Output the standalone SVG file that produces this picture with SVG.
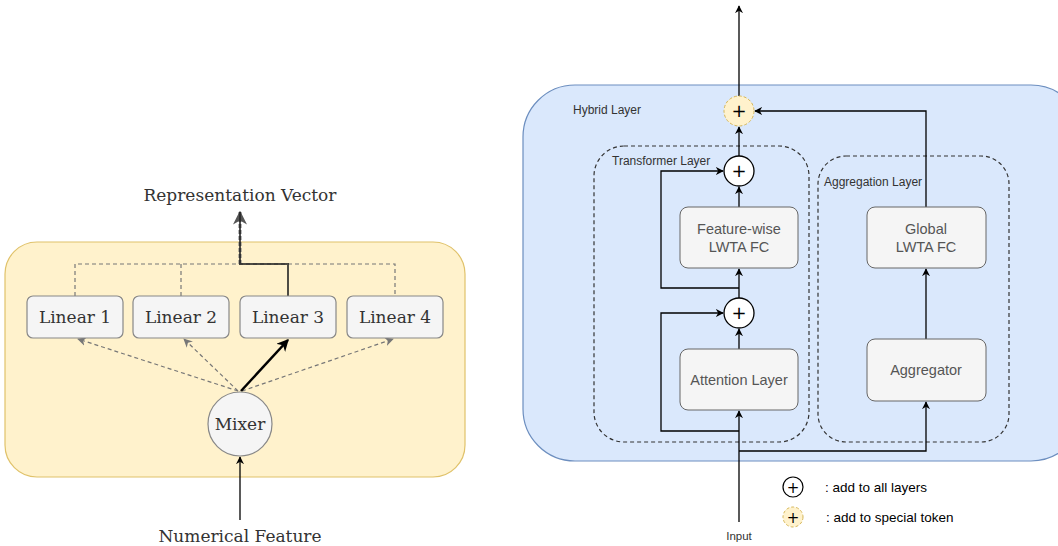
<svg xmlns="http://www.w3.org/2000/svg" width="1058" height="546" viewBox="0 0 1058 546">
<style>
.serif{font-family:"DejaVu Serif","Liberation Serif",serif;fill:#333;}
.sans{font-family:"Liberation Sans",Arial,sans-serif;fill:#333;}
.lin{fill:#f5f5f5;stroke:#888;stroke-width:1.2;}
.box{fill:#f5f5f5;stroke:#666;stroke-width:1;}
.dash{fill:none;stroke:#777;stroke-width:1.2;stroke-dasharray:4 3;}
.solid{fill:none;stroke:#000;stroke-width:1.3;}
.thick{fill:none;stroke:#000;stroke-width:2.5;}
.grp{fill:none;stroke:#333;stroke-width:1.2;stroke-dasharray:4 3;}
.plus{fill:#fff;stroke:#000;stroke-width:1.3;}
.yplus{fill:#fff2cc;stroke:#d6b656;stroke-width:1;stroke-dasharray:3 2;}
.pl{font-family:"DejaVu Sans","Liberation Sans",sans-serif;fill:#000;text-anchor:middle;}
.bt{font-family:"Liberation Sans",Arial,sans-serif;fill:#555;font-size:14.5px;text-anchor:middle;}
</style>
<defs>
<marker id="ah" viewBox="0 0 10 10" refX="9" refY="5" markerWidth="8" markerHeight="8" markerUnits="userSpaceOnUse" orient="auto"><path d="M0,0 L10,5 L0,10 L3,5 z" fill="#000"/></marker>
<marker id="ahg" viewBox="0 0 10 10" refX="9" refY="5" markerWidth="9" markerHeight="9" markerUnits="userSpaceOnUse" orient="auto"><path d="M0,0 L10,5 L0,10 L3,5 z" fill="#777"/></marker>
<marker id="ahk" viewBox="0 0 10 10" refX="9" refY="5" markerWidth="12" markerHeight="12" markerUnits="userSpaceOnUse" orient="auto"><path d="M0,0 L10,5 L0,10 L3,5 z" fill="#000"/></marker>
<marker id="ahu" viewBox="0 0 10 10" refX="9" refY="5" markerWidth="14" markerHeight="14" markerUnits="userSpaceOnUse" orient="auto"><path d="M0,0 L10,5 L0,10 L3,5 z" fill="#555"/></marker>
</defs>

<!-- LEFT PANEL -->
<g id="mixer-panel">
<rect x="5" y="242" width="460" height="235" rx="32" fill="#fff2cc" stroke="#e0c26a" stroke-width="1.2"/>
</g>
<text class="serif" x="240" y="201" font-size="17" text-anchor="middle">Representation Vector</text>
<text class="serif" x="240" y="542" font-size="17" text-anchor="middle">Numerical Feature</text>

<g id="connectors-left">
<path class="dash" d="M75,296 V264 H395 V296"/>
<path class="dash" d="M181,296 V264"/>
<path d="M240,264 V212" fill="none" stroke="#777" stroke-width="3" stroke-dasharray="4 2" marker-end="url(#ahu)"/>
<path d="M288,296 V264 H240 V212" fill="none" stroke="#222" stroke-width="2" stroke-opacity="0.8"/>
<path class="dash" d="M238,391 L78,339" marker-end="url(#ahg)"/>
<path class="dash" d="M238,391 L184,339" marker-end="url(#ahg)"/>
<path class="dash" d="M242,391 L393,339" marker-end="url(#ahg)"/>
<path class="thick" d="M241,391 L288,340" marker-end="url(#ahk)"/>
<path class="solid" d="M240,520 V457" marker-end="url(#ah)"/>
</g>

<g id="linear1"><rect class="lin" x="27" y="296" width="96" height="42" rx="6"/><text class="serif" x="75" y="323" font-size="17" text-anchor="middle">Linear 1</text></g>
<g id="linear2"><rect class="lin" x="133" y="296" width="96" height="42" rx="6"/><text class="serif" x="181" y="323" font-size="17" text-anchor="middle">Linear 2</text></g>
<g id="linear3"><rect class="lin" x="240" y="296" width="96" height="42" rx="6"/><text class="serif" x="288" y="323" font-size="17" text-anchor="middle">Linear 3</text></g>
<g id="linear4"><rect class="lin" x="347" y="296" width="96" height="42" rx="6"/><text class="serif" x="395" y="323" font-size="17" text-anchor="middle">Linear 4</text></g>
<g id="mixer"><circle class="lin" cx="240" cy="424" r="32"/><text class="serif" x="240" y="430" font-size="17" text-anchor="middle">Mixer</text></g>

<!-- RIGHT PANEL -->
<g id="hybrid-layer">
<rect x="523" y="85" width="560" height="376" rx="52" fill="#dae8fc" stroke="#6c8ebf" stroke-width="1.2"/>
<text class="sans" x="573" y="114" font-size="12">Hybrid Layer</text>
</g>
<g id="transformer-layer">
<rect class="grp" x="594" y="146" width="215" height="296" rx="30"/>
<text class="sans" x="612" y="165" font-size="12">Transformer Layer</text>
</g>
<g id="aggregation-layer">
<rect class="grp" x="818" y="156" width="191" height="286" rx="28"/>
<text class="sans" x="824" y="186" font-size="12">Aggregation Layer</text>
</g>

<g id="connectors-right">
<path class="solid" d="M739,96 V6" marker-end="url(#ah)"/>
<path class="solid" d="M739,156 V127" marker-end="url(#ah)"/>
<path class="solid" d="M739,207 V187" marker-end="url(#ah)"/>
<path class="solid" d="M739,288 H661 V171 H723" marker-end="url(#ah)"/>
<path class="solid" d="M739,298 V269" marker-end="url(#ah)"/>
<path class="solid" d="M739,349 V329" marker-end="url(#ah)"/>
<path class="solid" d="M739,431 H661 V313 H723" marker-end="url(#ah)"/>
<path class="solid" d="M739,522 V411" marker-end="url(#ah)"/>
<path class="solid" d="M739,451 H926 V402" marker-end="url(#ah)"/>
<path class="solid" d="M926,339 V269" marker-end="url(#ah)"/>
<path class="solid" d="M926,207 V111 H755" marker-end="url(#ah)"/>
</g>

<g id="special-add"><circle class="yplus" cx="739" cy="111" r="15"/><text class="pl" x="739" y="117" font-size="18">+</text></g>
<g id="add1"><circle class="plus" cx="739" cy="171" r="15"/><text class="pl" x="739" y="177" font-size="18">+</text></g>
<g id="add2"><circle class="plus" cx="739" cy="313" r="15"/><text class="pl" x="739" y="319" font-size="18">+</text></g>
<g id="feature-wise"><rect class="box" x="680" y="207" width="118" height="61" rx="8"/><text class="bt" x="739" y="234">Feature-wise</text><text class="bt" x="739" y="252">LWTA FC</text></g>
<g id="attention"><rect class="box" x="680" y="349" width="118" height="61" rx="8"/><text class="bt" x="739" y="385">Attention Layer</text></g>
<g id="global"><rect class="box" x="867" y="207" width="119" height="61" rx="8"/><text class="bt" x="926" y="234">Global</text><text class="bt" x="926" y="252">LWTA FC</text></g>
<g id="aggregator"><rect class="box" x="867" y="339" width="119" height="62" rx="8"/><text class="bt" x="926" y="375">Aggregator</text></g>

<text class="sans" x="739" y="540" font-size="11.5" text-anchor="middle">Input</text>
<g id="legend">
<circle cx="793" cy="487" r="10" fill="#fff" stroke="#000" stroke-width="1.2"/><text class="pl" x="793" y="492.5" font-size="15">+</text>
<text class="sans" x="825" y="492" font-size="13.5" style="fill:#000">: add to all layers</text>
<circle class="yplus" cx="793" cy="517" r="10"/><text class="pl" x="793" y="522.5" font-size="15">+</text>
<text class="sans" x="826" y="522" font-size="13.5" style="fill:#000">: add to special token</text>
</g>
</svg>
